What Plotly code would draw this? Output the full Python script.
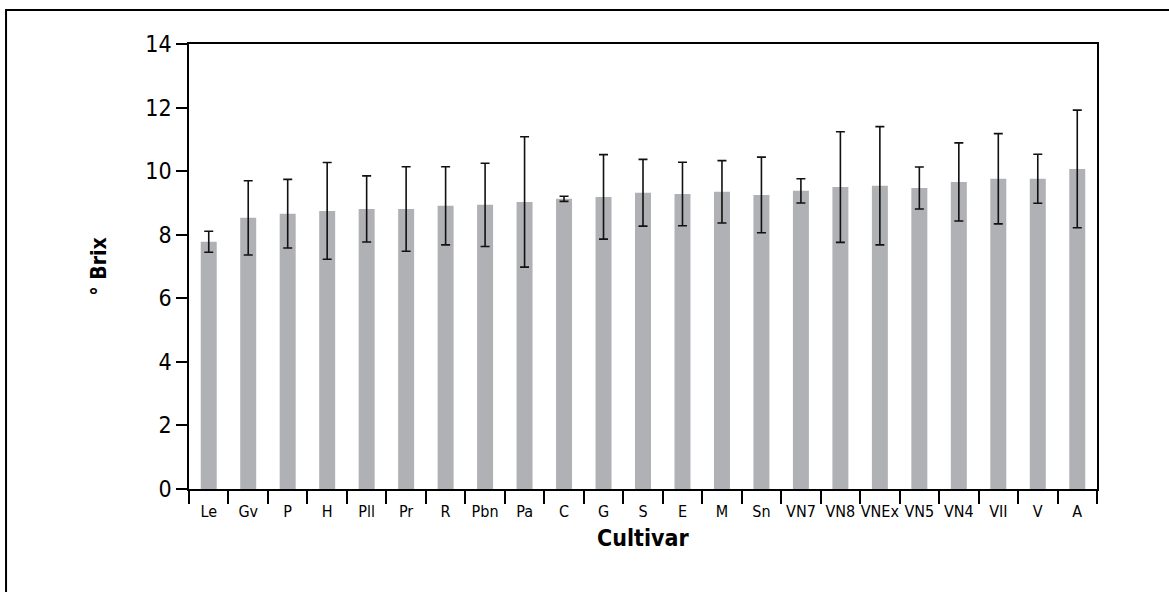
import plotly.graph_objects as go

cultivars = ["Le", "Gv", "P", "H", "Pll", "Pr", "R", "Pbn", "Pa", "C", "G", "S",
             "E", "M", "Sn", "VN7", "VN8", "VNEx", "VN5", "VN4", "VII", "V", "A"]
brix = [7.78, 8.53, 8.66, 8.75, 8.81, 8.81, 8.91, 8.94, 9.03, 9.13, 9.19, 9.32,
        9.28, 9.35, 9.25, 9.38, 9.50, 9.54, 9.47, 9.66, 9.76, 9.76, 10.07]
err = [0.33, 1.17, 1.08, 1.52, 1.04, 1.33, 1.23, 1.31, 2.05, 0.08, 1.33, 1.05,
       1.00, 0.98, 1.19, 0.38, 1.74, 1.86, 0.66, 1.23, 1.42, 0.77, 1.85]
y_ticks = [0, 2, 4, 6, 8, 10, 12, 14]

FONT = "DejaVu Sans Condensed, Liberation Sans Narrow, sans-serif"

fig = go.Figure(go.Bar(
    x=cultivars, y=brix,
    marker=dict(color="#B0B1B5", line=dict(width=0)),
    error_y=dict(type="data", array=err, visible=True, color="#111111",
                 thickness=1.6, width=4.5),
))

fig.update_layout(
    width=1169, height=592,
    margin=dict(l=189, r=72, t=44, b=103),
    paper_bgcolor="white", plot_bgcolor="white",
    bargap=0.595, showlegend=False,
    font=dict(family=FONT, color="black"),
    xaxis=dict(
        type="category", tickson="boundaries", ticks="outside", ticklen=13,
        tickwidth=1.5, tickcolor="black", showline=True, linecolor="black",
        linewidth=1.5, mirror=True, showgrid=False, tickangle=0,
        ticklabelstandoff=7,
        tickfont=dict(size=16, family=FONT), range=[-0.5, 22.5],
    ),
    yaxis=dict(
        range=[0, 14], tickvals=y_ticks, ticks="outside", ticklen=11,
        tickwidth=1.5, tickcolor="black", showline=True, linecolor="black",
        linewidth=1.5, mirror=True, showgrid=False, zeroline=False,
        tickfont=dict(size=23, family=FONT),
    ),
    annotations=[
        dict(text="<b>Cultivar</b>", xref="paper", yref="paper", x=0.5, y=-0.111,
             xanchor="center", yanchor="middle", showarrow=False,
             font=dict(size=23, family=FONT)),
        dict(text="<b>° Brix</b>", xref="paper", yref="paper", x=-0.1, y=0.5,
             xanchor="center", yanchor="middle", showarrow=False, textangle=-90,
             font=dict(size=21, family=FONT)),
    ],
    shapes=[
        dict(type="rect", xref="paper", yref="paper", x0=-0.2015, x1=1.1,
             y0=-0.3, y1=1.0764, line=dict(color="black", width=2)),
    ],
)

fig.write_html("out.html", config={"displayModeBar": False},
               post_script="document.body.style.margin='0';")
